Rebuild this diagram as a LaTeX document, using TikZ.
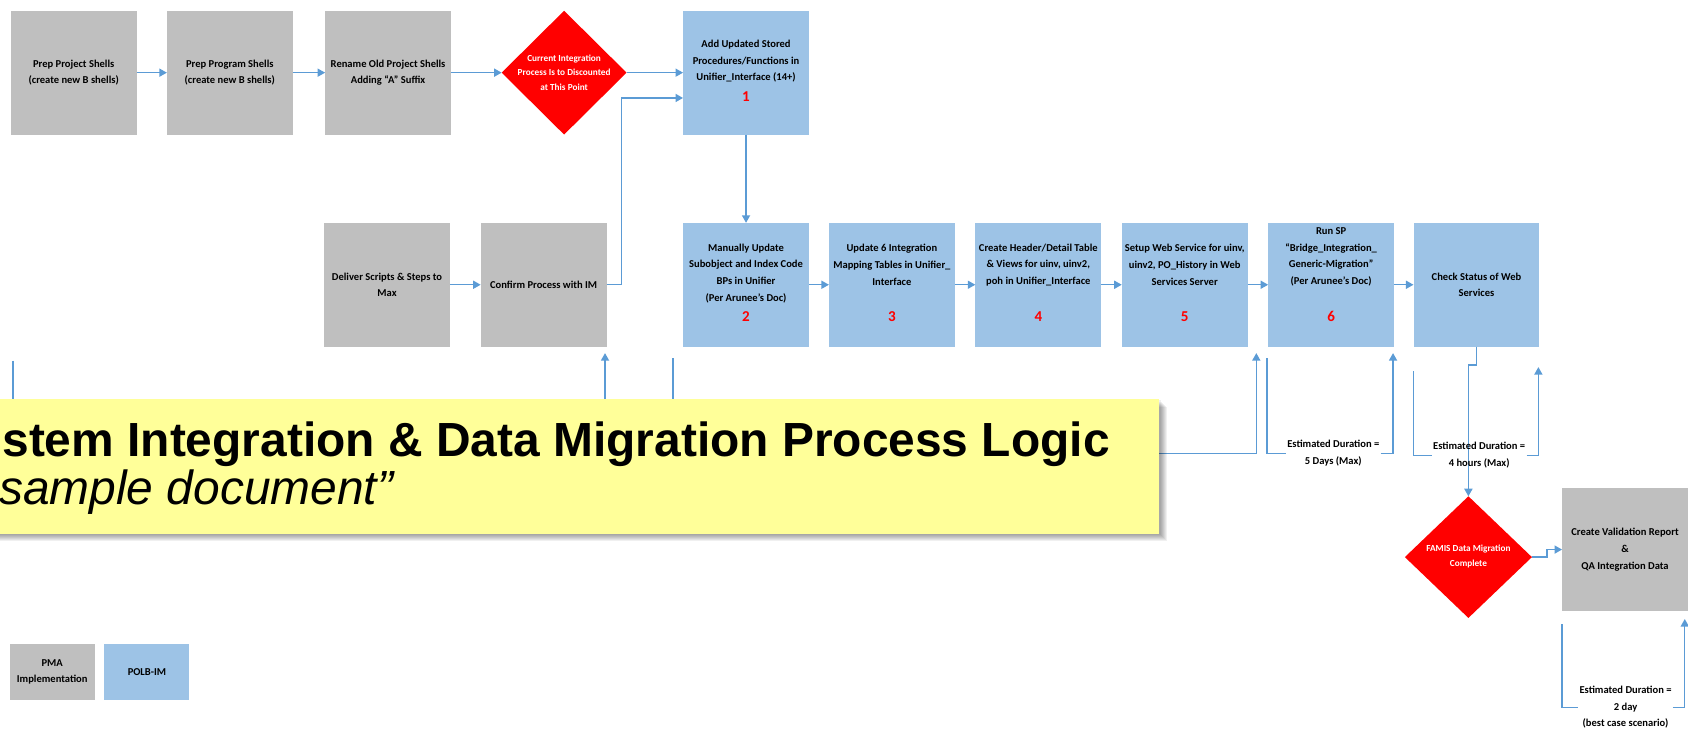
\documentclass[tikz,border=0pt]{standalone}
\usepackage{fontspec}
\setmainfont{Carlito}
\newfontfamily\titlefont{Liberation Sans}
\usetikzlibrary{shapes.geometric,arrows.meta,calc}
\definecolor{boxgray}{RGB}{191,191,191}
\definecolor{boxblue}{RGB}{157,195,230}
\definecolor{linkblue}{RGB}{91,155,213}
\definecolor{noteyellow}{RGB}{255,255,153}
\definecolor{numred}{RGB}{255,0,0}
\newcommand{\flowboxfont}{\bfseries\fontsize{9.8}{15.5}\selectfont}
\begin{document}
\begin{tikzpicture}[x=1pt,y=-1pt,
  base/.style={inner sep=0pt, outer sep=0pt},
  graybox/.style={base, fill=boxgray, minimum width=117pt, minimum height=115pt, align=center, font=\flowboxfont},
  bluebox/.style={graybox, fill=boxblue},
  boxtext/.style={inner sep=0pt, align=center, font=\flowboxfont},
  numtext/.style={inner sep=0pt, font=\bfseries\fontsize{14}{16}\selectfont, text=numred},
  decision/.style={diamond, aspect=1, fill=numred, minimum width=116pt, minimum height=115pt, inner sep=0pt, outer sep=0pt},
  dectext/.style={inner sep=0pt, align=center, text=white, font=\bfseries\fontsize{8.6}{13.5}\selectfont},
  flow/.style={draw=linkblue, line width=1.3pt, -{Triangle[length=7pt,width=7.5pt]}},
  link/.style={draw=linkblue, line width=1.3pt},
  esttext/.style={inner sep=1pt, align=center, font=\flowboxfont},
]
\useasboundingbox (0,0) rectangle (1568,679);
\clip (0,0) rectangle (1568,679);

% ---------- top row
\node[graybox] (pA) at (68.5,67.5) {Prep Project Shells\\(create new B shells)};
\node[graybox] (pB) at (213.5,67.5) {Prep Program Shells\\(create new B shells)};
\node[graybox] (pC) at (360.5,67.5) {Rename Old Project Shells\\Adding “A” Suffix};
\node[decision] (dD) at (524,67.5) {};
\node[dectext] (dDt) at (524,67.5) {Current Integration\\Process Is to Discounted\\at This Point};
\node[bluebox] (b1) at (693,67.5) {};
\node[boxtext] (b1t) at (693,57) {Add Updated Stored\\Procedures/Functions in\\Unifier\_Interface (14+)};
\node[numtext] (b1n) at (693,90) {1};

% ---------- second row
\node[graybox] (g1) at (359.5,264.5) {Deliver Scripts \& Steps to\\Max};
\node[graybox] (g2) at (505,264.5) {Confirm Process with IM};
\node[bluebox] (b2) at (693,264.5) {};
\node[boxtext] (b2t) at (693,254) {Manually Update\\Subobject and Index Code\\BPs in Unifier\\(Per Arunee’s Doc)};
\node[numtext] (b2n) at (693,294) {2};
\node[bluebox] (b3) at (828.5,264.5) {};
\node[boxtext] (b3t) at (828.5,246) {Update 6 Integration\\Mapping Tables in Unifier\_\\Interface};
\node[numtext] (b3n) at (828.5,294) {3};
\node[bluebox] (b4) at (964.5,264.5) {};
\node[boxtext] (b4t) at (964.5,246) {Create Header/Detail Table\\\& Views for uinv, uinv2,\\poh in Unifier\_Interface};
\node[numtext] (b4n) at (964.5,294) {4};
\node[bluebox] (b5) at (1100.5,264.5) {};
\node[boxtext] (b5t) at (1100.5,246) {Setup Web Service for uinv,\\uinv2, PO\_History in Web\\Services Server};
\node[numtext] (b5n) at (1100.5,294) {5};
\node[bluebox] (b6) at (1236.5,264.5) {};
\node[boxtext] (b6t) at (1236.5,238.5) {Run SP\\“Bridge\_Integration\_\\Generic-Migration”\\(Per Arunee’s Doc)};
\node[numtext] (b6n) at (1236.5,294) {6};
\node[bluebox] (ck) at (1371.5,264.5) {Check Status of Web\\Services};

% ---------- bottom right
\node[decision, minimum width=118pt, minimum height=113pt] (dF) at (1364,517.5) {};
\node[dectext, font=\bfseries\fontsize{8.6}{14}\selectfont] (dFt) at (1364,517) {FAMIS Data Migration\\Complete};
\node[graybox] (val) at (1509.5,510.5) {Create Validation Report\\\&\\QA Integration Data};

% ---------- legend
\node[graybox, minimum width=79pt, minimum height=52pt] (lg1) at (48.5,624) {PMA\\Implementation};
\node[bluebox, minimum width=79pt, minimum height=52pt] (lg2) at (136.5,624) {POLB-IM};

% ---------- connectors
\draw[flow] (pA) -- (pB);
\draw[flow] (pB) -- (pC);
\draw[flow] (pC) -- (dD);
\draw[flow] (dD) -- (b1);
\draw[flow] (g2.east) -- ++(14,0) |- ($(b1.west)+(0,23.5)$);
\draw[flow] (b1) -- (b2);
\draw[flow] (g1) -- (g2);
\draw[flow] (b2) -- (b3);
\draw[flow] (b3) -- (b4);
\draw[flow] (b4) -- (b5);
\draw[flow] (b5) -- (b6);
\draw[flow] (b6) -- (ck);
\draw[flow] (ck.south) -- ++(0,17) -| (dF.north);
\draw[flow] (dF.east) -- ++(14,0) |- (val.west);

% duration brackets
\coordinate (k1a) at (12,335);
\coordinate (k1b) at (562,328);
\draw[flow] (k1a) -- ++(0,86) -| (k1b);
\coordinate (k2a) at (625,333);
\coordinate (k2b) at (1167,328);
\draw[flow] (k2a) -- ++(0,88) -| (k2b);

\node[esttext] (est1) at (1238.5,421) {Estimated Duration =\\5 Days (Max)};
\coordinate (k3a) at (1177,333);
\coordinate (k3b) at (1294,328);
\draw[link] (k3a) |- (est1.west);
\draw[flow] (est1.east) -| (k3b);

\node[esttext] (est2) at (1374,423) {Estimated Duration =\\4 hours (Max)};
\coordinate (k4a) at (1313,345);
\coordinate (k4b) at (1429,341);
\draw[link] (k4a) |- (est2.west);
\draw[flow] (est2.east) -| (k4b);

\node[esttext] (est3) at (1510,657) {Estimated Duration =\\2 day\\(best case scenario)};
\coordinate (k5a) at (1451,580);
\coordinate (k5b) at (1565,575);
\draw[link] (k5a) |- (est3.west);
\draw[flow] (est3.east) -| (k5b);

% ---------- title note
\foreach \i in {1,...,7}
  \fill[black, opacity=0.06] (-10,371+\i) rectangle (1077+\i,496+\i);
\node[base, fill=noteyellow, anchor=north west, minimum width=1087pt, minimum height=125pt] (title) at (-10,371) {};
\node[inner sep=0pt, anchor=base west, font=\titlefont\bfseries\fontsize{44.5}{45}\selectfont] (t1) at (2,424.5) {stem Integration \& Data Migration Process Logic};
\node[inner sep=0pt, anchor=base west, font=\titlefont\itshape\fontsize{44.5}{45}\selectfont] (t2) at (-1,469) {sample document”};
\end{tikzpicture}
\end{document}
